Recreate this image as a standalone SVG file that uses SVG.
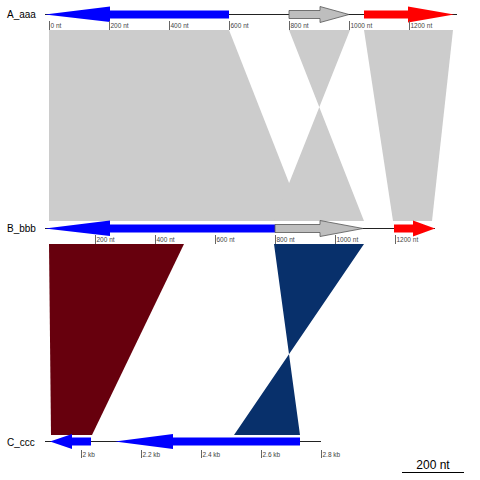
<svg xmlns="http://www.w3.org/2000/svg" width="480" height="480" viewBox="0 0 480 480">
<style>
.lbl{font-family:"Liberation Sans",Arial,sans-serif;font-size:10px;fill:#000}
.tk{font-family:"Liberation Sans",Arial,sans-serif;font-size:6.5px;fill:#444}
.tl{stroke:#666;stroke-width:1}
.bb{stroke:#222;stroke-width:1}
.blue{fill:#0000ff}
.red{fill:#ff0000}
.grey{fill:#bebebe;stroke:#555;stroke-width:0.8}
</style>
<rect width="480" height="480" fill="#fff"/>
<g id="connectors">
<polygon points="49,30 229,30 304,221 49,221" fill="#cccccc"/>
<polygon points="289,30 350,30 274,221 364,221" fill="#cccccc"/>
<polygon points="364,30 453,30 432,221 393,221" fill="#cccccc"/>
<polygon points="49,244 184,244 92,435 51,435" fill="#67000d"/>
<polygon points="274,244 364,244 234,435 300,435" fill="#08306b"/>
</g>
<g id="A_aaa">
<text class="lbl" x="7" y="17.5">A_aaa</text>
<line class="bb" x1="45" y1="14.5" x2="457" y2="14.5"/>
<polygon class="blue" points="45,14.5 110,6.5 110,10.5 229,10.5 229,18.5 110,18.5 110,22"/>
<polygon class="grey" points="289,10.5 320,10.5 320,6.5 349,14.5 320,22.5 320,18.5 289,18.5"/>
<polygon class="red" points="364,10.5 408,10.5 408,6.5 454,14.5 408,22.5 408,18.5 364,18.5"/>
<g>
<line class="tl" x1="49.5" y1="21" x2="49.5" y2="30"/><text class="tk" x="50.5" y="27.5">0 nt</text>
<line class="tl" x1="109.5" y1="21" x2="109.5" y2="30"/><text class="tk" x="110.5" y="27.5">200 nt</text>
<line class="tl" x1="169.5" y1="21" x2="169.5" y2="30"/><text class="tk" x="170.5" y="27.5">400 nt</text>
<line class="tl" x1="229.5" y1="21" x2="229.5" y2="30"/><text class="tk" x="230.5" y="27.5">600 nt</text>
<line class="tl" x1="289.5" y1="21" x2="289.5" y2="30"/><text class="tk" x="290.5" y="27.5">800 nt</text>
<line class="tl" x1="349.5" y1="21" x2="349.5" y2="30"/><text class="tk" x="350.5" y="27.5">1000 nt</text>
<line class="tl" x1="409.5" y1="21" x2="409.5" y2="30"/><text class="tk" x="410.5" y="27.5">1200 nt</text>
</g>
</g>
<g id="B_bbb">
<text class="lbl" x="7" y="231.5">B_bbb</text>
<line class="bb" x1="45" y1="228.5" x2="435" y2="228.5"/>
<polygon class="blue" points="45,228.5 110,220.5 110,224.5 275,224.5 275,232.5 110,232.5 110,236"/>
<polygon class="grey" points="275,224.5 320,224.5 320,220.5 363,228.5 320,236.5 320,232.5 275,232.5"/>
<polygon class="red" points="394,224.5 413,224.5 413,220.5 435,228.5 413,236.5 413,232.5 394,232.5"/>
<g>
<line class="tl" x1="95.5" y1="235" x2="95.5" y2="244"/><text class="tk" x="96.5" y="241.5">200 nt</text>
<line class="tl" x1="155.5" y1="235" x2="155.5" y2="244"/><text class="tk" x="156.5" y="241.5">400 nt</text>
<line class="tl" x1="215.5" y1="235" x2="215.5" y2="244"/><text class="tk" x="216.5" y="241.5">600 nt</text>
<line class="tl" x1="275.5" y1="235" x2="275.5" y2="244"/><text class="tk" x="276.5" y="241.5">800 nt</text>
<line class="tl" x1="335.5" y1="235" x2="335.5" y2="244"/><text class="tk" x="336.5" y="241.5">1000 nt</text>
<line class="tl" x1="395.5" y1="235" x2="395.5" y2="244"/><text class="tk" x="396.5" y="241.5">1200 nt</text>
</g>
</g>
<g id="C_ccc">
<text class="lbl" x="7" y="445.5">C_ccc</text>
<line class="bb" x1="45" y1="441.5" x2="321" y2="441.5"/>
<polygon class="blue" points="50,441.5 72,434 72,437.5 91,437.5 91,445.5 72,445.5 72,449"/>
<polygon class="blue" points="115,441.5 173,434 173,437.5 300,437.5 300,445.5 173,445.5 173,449"/>
<g>
<line class="tl" x1="81.5" y1="450" x2="81.5" y2="458"/><text class="tk" x="82.5" y="456.5">2 kb</text>
<line class="tl" x1="141.5" y1="450" x2="141.5" y2="458"/><text class="tk" x="142.5" y="456.5">2.2 kb</text>
<line class="tl" x1="201.5" y1="450" x2="201.5" y2="458"/><text class="tk" x="202.5" y="456.5">2.4 kb</text>
<line class="tl" x1="261.5" y1="450" x2="261.5" y2="458"/><text class="tk" x="262.5" y="456.5">2.6 kb</text>
<line class="tl" x1="321.5" y1="450" x2="321.5" y2="458"/><text class="tk" x="322.5" y="456.5">2.8 kb</text>
</g>
</g>
<g id="scale">
<line x1="402" y1="472.5" x2="464" y2="472.5" stroke="#000" stroke-width="1"/>
<text x="433" y="469" text-anchor="middle" font-family="Liberation Sans, Arial, sans-serif" font-size="12">200 nt</text>
</g>
</svg>
